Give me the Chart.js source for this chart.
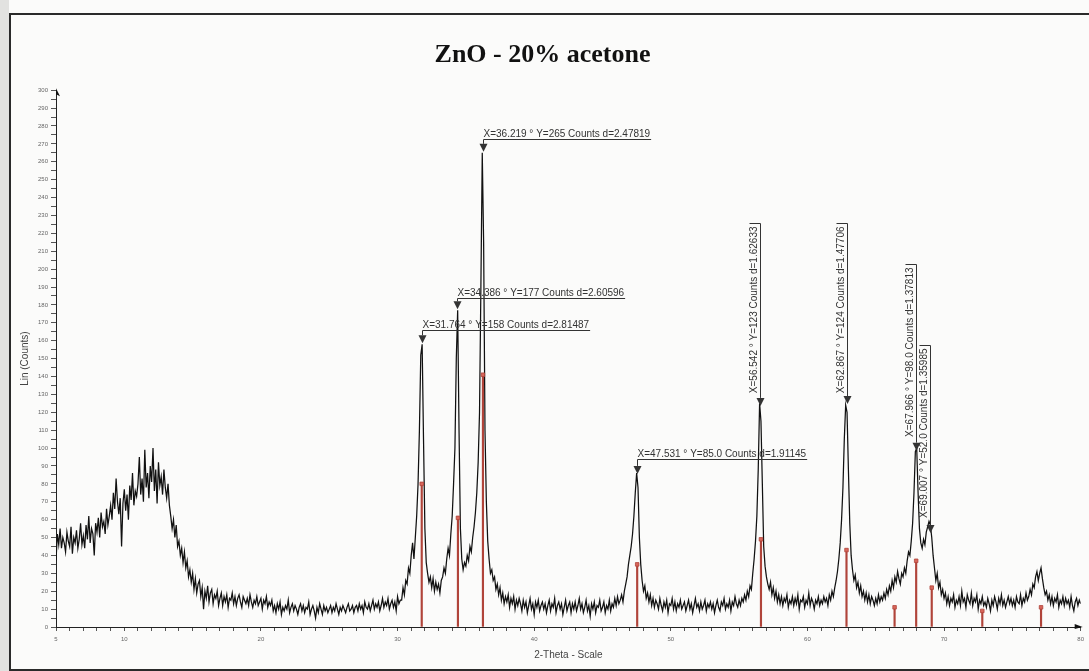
<!DOCTYPE html>
<html>
<head>
<meta charset="utf-8">
<title>ZnO - 20% acetone</title>
<script src="https://cdn.jsdelivr.net/npm/chart.js@4.4.1/dist/chart.umd.min.js"></script>
<style>
  html, body { margin: 0; padding: 0; background: #fbfbfa; }
  #wrap { position: relative; width: 1089px; height: 671px; overflow: hidden; }
  #strip { position: absolute; left: 0; top: 0; width: 9px; height: 671px; background: #e2e2e0; }
  #frame { position: absolute; left: 9px; top: 13px; width: 1100px; height: 654px;
           border-left: 2px solid #2a2a2a; border-top: 2px solid #2a2a2a; border-bottom: 2px solid #2a2a2a;
           pointer-events: none; }
  canvas { position: absolute; left: 0; top: 0; }
</style>
</head>
<body>
<div id="wrap">
  <div id="strip"></div>
  <canvas id="xrd" width="1089" height="671"></canvas>
  <div id="frame"></div>
</div>
<script>
// scan grid (2-theta, degrees)
const scanStart = 5;
const scanStep = 0.1;

// Lin (Counts), one row = 2 degrees
const counts = [
  37, 52, 46, 55, 44, 50, 47, 42, 53, 48, 45, 56, 41, 50, 47, 54, 44, 49, 58, 46,   // 5
  51, 44, 57, 49, 62, 47, 55, 52, 40, 58, 53, 61, 50, 64, 56, 59, 52, 66, 57, 62,   // 7
  68, 60, 75, 66, 83, 70, 63, 72, 45, 69, 77, 65, 74, 60, 79, 71, 86, 68, 76, 73,   // 9
  80, 95, 74, 83, 70, 99, 78, 86, 72, 90, 81, 100, 76, 88, 69, 92, 79, 84, 74, 88,  // 11
  78, 72, 80, 68, 62, 55, 60, 50, 57, 45, 48, 40, 44, 36, 42, 33, 37, 28, 32, 25,   // 13
  30, 21, 27, 19, 24, 26, 17, 22, 10, 20, 16, 23, 14, 19, 21, 13, 18, 16, 20, 12,   // 15
  16, 19, 12, 17, 14, 18, 11, 16, 15, 19, 13, 17, 12, 16, 18, 14, 11, 17, 15, 13,   // 17
  16, 12, 18, 14, 11, 15, 13, 17, 12, 14, 16, 10, 15, 13, 17, 11, 14, 12, 15, 9,    // 19
  12, 8, 13, 10, 14, 7, 11, 9, 12, 10, 15, 8, 11, 13, 9, 12, 10, 7, 11, 13,         // 21
  9, 12, 8, 11, 10, 14, 7, 10, 12, 9, 5, 11, 8, 13, 10, 7, 12, 9, 11, 8,            // 23
  10, 12, 8, 11, 9, 13, 10, 7, 11, 9, 12, 10, 8, 11, 13, 9, 10, 12, 8, 11,          // 25
  12, 9, 13, 10, 12, 8, 14, 11, 10, 13, 9, 12, 15, 10, 13, 11, 14, 9, 12, 16,       // 27
  11, 14, 12, 16, 10, 13, 15, 11, 14, 9, 17, 13, 15, 15, 22, 18, 26, 24, 33, 30,    // 29
  40, 47, 38, 50, 62, 80, 110, 152, 158, 105, 55, 36, 30, 25, 28, 22, 27, 20, 25, 21, // 31
  24, 19, 26, 28, 33, 30, 38, 44, 40, 52, 62, 80, 100, 150, 177, 110, 55, 38, 32, 36, // 33
  34, 40, 37, 45, 42, 50, 56, 64, 75, 92, 120, 190, 265, 215, 110, 70, 48, 38, 30, 32, // 35
  26, 28, 21, 24, 18, 22, 15, 19, 13, 17, 14, 18, 11, 16, 13, 17, 10, 15, 12, 16,   // 37
  13, 9, 15, 11, 14, 8, 12, 16, 10, 13, 7, 14, 11, 15, 9, 12, 14, 10, 13, 8,        // 39
  12, 15, 9, 13, 11, 16, 8, 12, 14, 10, 13, 7, 11, 15, 9, 12, 14, 8, 13, 10,        // 41
  14, 9, 12, 16, 10, 13, 8, 11, 15, 9, 12, 6, 13, 10, 14, 8, 12, 11, 15, 9,         // 43
  11, 14, 8, 12, 10, 15, 9, 13, 11, 16, 12, 17, 13, 15, 18, 14, 20, 24, 28, 35,     // 45
  40, 45, 52, 62, 75, 86, 78, 50, 35, 26, 20, 23, 16, 19, 14, 18, 12, 16, 11, 15,   // 47
  13, 10, 16, 12, 9, 14, 11, 15, 8, 13, 12, 16, 10, 14, 9, 13, 11, 15, 10, 12,      // 49
  14, 9, 12, 15, 10, 13, 8, 12, 16, 11, 13, 9, 14, 10, 12, 15, 9, 13, 11, 14,       // 51
  10, 13, 8, 12, 15, 11, 9, 14, 12, 16, 10, 13, 11, 15, 9, 14, 12, 17, 13, 11,      // 53
  15, 12, 16, 14, 18, 15, 20, 17, 23, 21, 30, 38, 48, 62, 88, 125, 115, 80, 45, 34, // 55
  28, 24, 21, 25, 18, 22, 16, 20, 14, 18, 13, 17, 12, 16, 14, 18, 11, 15, 13, 17,   // 57
  12, 16, 13, 18, 10, 15, 14, 17, 11, 15, 13, 19, 12, 16, 14, 10, 15, 13, 17, 12,   // 59
  15, 13, 17, 14, 16, 12, 18, 15, 20, 17, 22, 26, 31, 38, 47, 60, 78, 105, 124, 120, // 61
  88, 58, 40, 32, 26, 29, 22, 25, 19, 23, 17, 20, 15, 19, 14, 18, 13, 17, 15, 12,   // 63
  16, 13, 18, 14, 17, 15, 19, 16, 21, 18, 23, 20, 26, 22, 28, 25, 31, 27, 24, 30,   // 65
  28, 33, 30, 37, 42, 40, 48, 58, 75, 98, 100, 75, 55, 47, 44, 49, 46, 53, 56, 59,  // 67
  57, 50, 40, 33, 26, 30, 22, 25, 18, 21, 16, 19, 13, 17, 12, 16, 14, 18, 11, 15,   // 69
  13, 17, 12, 20, 14, 16, 11, 18, 15, 13, 19, 12, 16, 14, 18, 10, 15, 13, 17, 12,   // 71
  14, 11, 16, 13, 9, 15, 12, 17, 14, 10, 16, 13, 18, 12, 15, 11, 14, 17, 13, 16,    // 73
  12, 15, 11, 17, 14, 13, 18, 12, 16, 14, 19, 15, 17, 21, 18, 24, 22, 28, 31, 26,   // 75
  30, 33, 27, 22, 18, 20, 15, 18, 13, 17, 12, 16, 14, 18, 11, 15, 13, 17, 12, 16,   // 77
  13, 15, 11, 17, 12, 9, 14, 16, 12, 15, 13                                         // 79
];

// reference pattern sticks (red)
const refPos = [31.77, 34.42, 36.25, 47.54, 56.60, 62.86, 66.38, 67.96, 69.10, 72.80, 77.10];
const refHeight = [80, 61, 141, 35, 49, 43, 11, 37, 22, 9, 11];

// peak labels
const peakX = [31.764, 34.386, 36.219, 47.531, 56.542, 62.867, 67.966, 69.007];
const peakY = [158, 177, 265, 85, 123, 124, 98, 52];
const peakText = [
  'X=31.764 ° Y=158 Counts d=2.81487',
  'X=34.386 ° Y=177 Counts d=2.60596',
  'X=36.219 ° Y=265 Counts d=2.47819',
  'X=47.531 ° Y=85.0 Counts d=1.91145',
  'X=56.542 ° Y=123 Counts d=1.62633',
  'X=62.867 ° Y=124 Counts d=1.47706',
  'X=67.966 ° Y=98.0 Counts d=1.37813',
  'X=69.007 ° Y=52.0 Counts d=1.35985'
];
const labelLevel = [166, 184, 272.5, 94, 226, 226, 203, 157.5];
const labelVertical = [false, false, false, false, true, true, true, true];

// axis ticks
const xTickLabels = [5, 10, 20, 30, 40, 50, 60, 70, 80];
const yTickLabelStep = 10;

const sansFont = '"Liberation Sans", Arial, Helvetica, sans-serif';
Chart.defaults.font.family = sansFont;

const scanPoints = counts.map((c, i) => ({ x: Number((scanStart + i * scanStep).toFixed(2)), y: c }));
const refPoints = refPos.map((p, i) => ({ x: p, y: refHeight[i] }));

// arrow heads at the ends of both axes
const axisArrows = {
    id: 'axisArrows',
    afterDraw(chart) {
        const { ctx, chartArea: a } = chart;
        ctx.save();
        ctx.fillStyle = '#111';
        ctx.beginPath();
        ctx.moveTo(a.right + 2, a.bottom);
        ctx.lineTo(a.right - 6, a.bottom - 3);
        ctx.lineTo(a.right - 6, a.bottom + 2);
        ctx.closePath();
        ctx.fill();
        ctx.beginPath();
        ctx.moveTo(a.left, a.top - 2);
        ctx.lineTo(a.left + 4, a.top + 6);
        ctx.lineTo(a.left, a.top + 4);
        ctx.closePath();
        ctx.fill();
        ctx.restore();
    },
};

// peak markers with leader lines and underlined labels
const peakLabels = {
    id: 'peakLabels',
    afterDatasetsDraw(chart) {
        const { ctx, scales: { x, y } } = chart;
        ctx.save();
        ctx.font = '10px ' + sansFont;
        ctx.fillStyle = '#333';
        ctx.strokeStyle = '#333';
        ctx.lineWidth = 1;
        peakX.forEach((pos, i) => {
            const px = Math.round(x.getPixelForValue(pos)) + 0.5;
            const tip = y.getPixelForValue(peakY[i]);
            const lvl = Math.round(y.getPixelForValue(labelLevel[i])) + 0.5;
            const text = peakText[i];
            const w = ctx.measureText(text).width;

            ctx.beginPath();
            ctx.moveTo(px - 4, tip - 9);
            ctx.lineTo(px + 4, tip - 9);
            ctx.lineTo(px, tip - 1);
            ctx.closePath();
            ctx.fill();

            ctx.beginPath();
            ctx.moveTo(px, lvl);
            ctx.lineTo(px, tip - 9);
            ctx.stroke();

            if (!labelVertical[i]) {
                ctx.textAlign = 'left';
                ctx.textBaseline = 'bottom';
                ctx.fillText(text, px, lvl - 0.5);
                ctx.beginPath();
                ctx.moveTo(px, lvl);
                ctx.lineTo(px + w + 1, lvl);
                ctx.stroke();
            } else {
                ctx.save();
                ctx.translate(px - 1, lvl + 3);
                ctx.rotate(-Math.PI / 2);
                ctx.textAlign = 'right';
                ctx.textBaseline = 'bottom';
                ctx.fillText(text, 0, 0);
                ctx.restore();
                ctx.beginPath();
                ctx.moveTo(px - 11, lvl);
                ctx.lineTo(px, lvl);
                ctx.stroke();
            }
        });
        ctx.restore();
    },
};

new Chart(document.getElementById('xrd'), {
    type: 'line',
    data: {
        datasets: [
            {
                label: 'ZnO - 20% acetone',
                data: scanPoints,
                borderColor: '#111',
                borderWidth: 1.25,
                pointRadius: 0,
                tension: 0,
                order: 2,
            },
            {
                type: 'bar',
                label: 'Reference',
                data: refPoints,
                backgroundColor: '#b0443a',
                barThickness: 1.5,
                order: 1,
            },
            {
                type: 'scatter',
                label: 'Reference tops',
                data: refPoints,
                pointStyle: 'rect',
                pointRadius: 2.5,
                backgroundColor: '#d8665b',
                borderColor: '#b0443a',
                borderWidth: 0.8,
                order: 0,
            },
        ],
    },
    options: {
        responsive: false,
        animation: false,
        layout: { padding: { left: 0, right: 4, top: 0, bottom: 0 } },
        plugins: {
            legend: { display: false },
            tooltip: { enabled: false },
            title: {
                display: true,
                text: 'ZnO - 20% acetone',
                color: '#111',
                font: { family: '"Liberation Serif", "Times New Roman", serif', size: 26, weight: 'bold' },
                padding: { top: 40, bottom: 19 },
            },
        },
        scales: {
            x: {
                type: 'linear',
                min: 5,
                max: 80,
                offset: false,
                afterFit: (scale) => { scale.height = 44; },
                border: { display: true, color: '#222', width: 1 },
                grid: { drawOnChartArea: false, offset: false, tickLength: 4, color: '#555' },
                ticks: {
                    stepSize: 1,
                    autoSkip: false,
                    maxRotation: 0,
                    padding: 5,
                    color: '#666',
                    font: { size: 6 },
                    callback: (v) => xTickLabels.includes(v) ? String(v) : '',
                },
                title: {
                    display: true,
                    text: '2-Theta - Scale',
                    color: '#444',
                    font: { size: 10 },
                    padding: { top: 0, bottom: 10 },
                },
            },
            y: {
                type: 'linear',
                min: 0,
                max: 300,
                afterFit: (scale) => { scale.width = 56; },
                border: { display: true, color: '#222', width: 1 },
                grid: { drawOnChartArea: false, tickLength: 5, color: '#555' },
                ticks: {
                    stepSize: 5,
                    autoSkip: false,
                    padding: 3,
                    color: '#666',
                    font: { size: 6 },
                    callback: (v) => v % yTickLabelStep === 0 ? String(v) : '',
                },
                title: {
                    display: true,
                    text: 'Lin (Counts)',
                    color: '#444',
                    font: { size: 10 },
                    padding: { top: 19, bottom: 0 },
                },
            },
        },
    },
    plugins: [axisArrows, peakLabels],
});
</script>
</body>
</html>
